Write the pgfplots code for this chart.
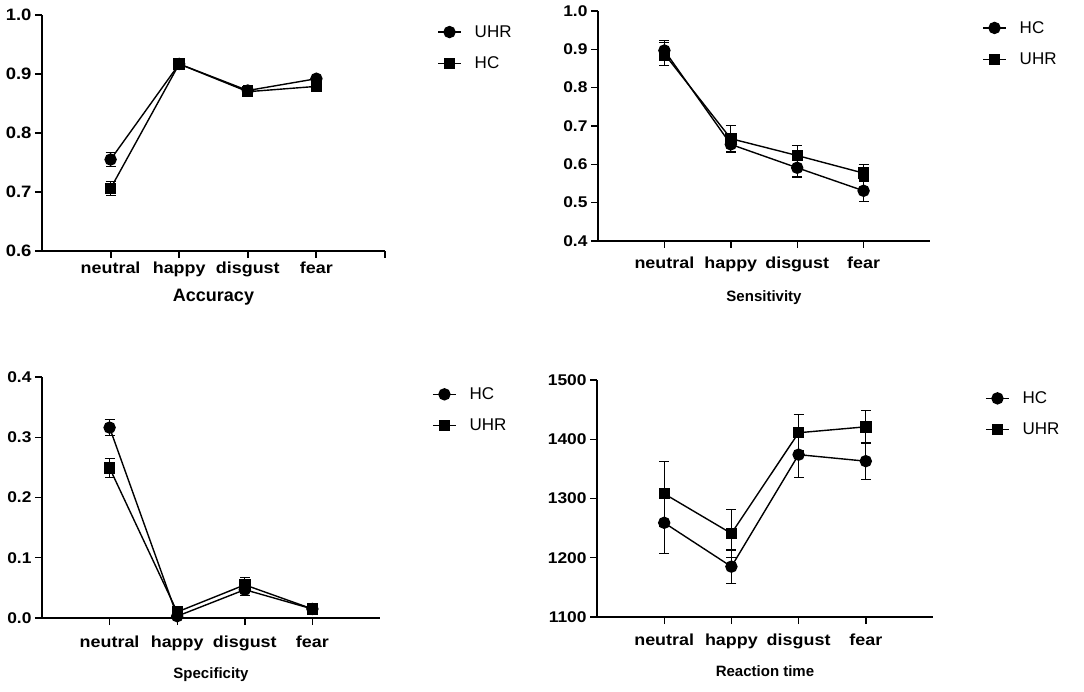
\documentclass[border=0pt]{standalone}
\usepackage{fontspec}
\setmainfont{Liberation Sans}
\newfontfamily\tickfont[FakeStretch=1.12]{Liberation Sans}
\usepackage{pgfplots}
\pgfplotsset{compat=1.18}

\pgfplotsset{
  panel/.style={
    scale only axis, clip=false,
    axis x line*=bottom, axis y line*=left,
    axis line style={line width=1.4pt, black},
    xmin=-1, xmax=4,
    xtick={0,1,2,3}, xticklabels={neutral,happy,disgust,fear},
    tick align=outside, major tick length=7pt,
    tick style={line width=1.4pt, black},
    x tick label style={font=\tickfont\bfseries\fontsize{16}{19}\selectfont, yshift=-6pt},
    y tick label style={font=\tickfont\bfseries\fontsize{15.5}{18}\selectfont},
    /pgf/number format/assume math mode=true,
    yticklabel style={/pgf/number format/fixed, /pgf/number format/fixed zerofill, /pgf/number format/precision=1},
    xlabel style={font=\bfseries\fontsize{15}{18}\selectfont, at={(axis description cs:0.5,0)}, anchor=center, yshift=-57pt},
    legend style={draw=none, fill=none, inner sep=0pt, anchor=north west,
      font=\fontsize{17}{20}\selectfont, row sep=14pt,
      /tikz/every odd column/.append style={column sep=11pt}},
    legend cell align=left,
    legend image code/.code={\draw[mark repeat=2,mark phase=2,##1] plot coordinates {(0pt,0pt)(11.5pt,0pt)(23pt,0pt)};},
    every axis plot/.append style={black, line width=1.4pt},
    error bars/y dir=both, error bars/y explicit,
    error bars/error bar style={line width=1.2pt, black},
    error bars/error mark options={rotate=90, mark size=5pt, line width=1.2pt, black},
  },
  circ/.style={black, line width=1.4pt, mark=*, mark size=5.5pt, mark options={solid, fill=black, draw=black}},
  sq/.style={black, line width=1.4pt, mark=square*, mark size=5pt, mark options={solid, fill=black, draw=black}},
}

\pgfplotstableread{
x y e
0 0.755 0.012
1 0.917 0.004
2 0.872 0.008
3 0.892 0.004
}\accUHR
\pgfplotstableread{
x y e
0 0.706 0.012
1 0.917 0.004
2 0.870 0.008
3 0.879 0.005
}\accHC
\pgfplotstableread{
x y e
0 0.897 0.027
1 0.652 0.020
2 0.591 0.024
3 0.531 0.028
}\senHC
\pgfplotstableread{
x y e
0 0.888 0.030
1 0.667 0.035
2 0.623 0.026
3 0.577 0.022
}\senUHR
\pgfplotstableread{
x y e
0 0.316 0.013
1 0.003 0.002
2 0.047 0.010
3 0.015 0.003
}\speHC
\pgfplotstableread{
x y e
0 0.249 0.016
1 0.010 0.003
2 0.055 0.012
3 0.015 0.003
}\speUHR
\pgfplotstableread{
x y e
0 1259 52
1 1185 28
2 1374 38
3 1363 31
}\rtHC
\pgfplotstableread{
x y e
0 1308 55
1 1241 40
2 1411 31
3 1421 28
}\rtUHR

\begin{document}
\begin{tikzpicture}[x=1pt,y=1pt]
\useasboundingbox (0,0) rectangle (1084,691);

% Accuracy
\begin{axis}[panel, at={(42pt,440pt)}, anchor=south west, width=343pt, height=236pt,
  ymin=0.6, ymax=1.0, ytick={0.6,0.7,0.8,0.9,1.0},
  axis line style={line width=2pt}, tick style={line width=2pt},
  x tick label style={yshift=6pt},
  y tick label style={font=\tickfont\bfseries\fontsize{16.5}{19}\selectfont},
  extra x ticks={4}, extra x tick labels={},
  xlabel={Accuracy}, xlabel style={font=\bfseries\fontsize{18}{21}\selectfont, yshift=11pt},
  legend style={at={(axis description cs:1.152,0.965)}}]
\addplot[circ] table[x=x,y=y,y error=e]{\accUHR};
\addlegendentry{UHR}
\addplot[sq] table[x=x,y=y,y error=e]{\accHC};
\addlegendentry{HC}
\end{axis}

% Sensitivity
\begin{axis}[panel, at={(598pt,450pt)}, anchor=south west, width=332pt, height=230pt,
  ymin=0.4, ymax=1.0, ytick={0.4,0.5,0.6,0.7,0.8,0.9,1.0},
  x tick label style={yshift=1pt},
  xlabel={Sensitivity},
  legend style={at={(axis description cs:1.157,0.965)}}]
\addplot[circ] table[x=x,y=y,y error=e]{\senHC};
\addlegendentry{HC}
\addplot[sq] table[x=x,y=y,y error=e]{\senUHR};
\addlegendentry{UHR}
\end{axis}

% Specificity
\begin{axis}[panel, at={(42pt,73pt)}, anchor=south west, width=338pt, height=241pt,
  ymin=0, ymax=0.4, ytick={0,0.1,0.2,0.3,0.4},
  x tick label style={yshift=-1.5pt},
  xlabel={Specificity},
  legend style={at={(axis description cs:1.154,0.965)}}]
\addplot[circ] table[x=x,y=y,y error=e]{\speHC};
\addlegendentry{HC}
\addplot[sq] table[x=x,y=y,y error=e]{\speUHR};
\addlegendentry{UHR}
\end{axis}

% Reaction time
\begin{axis}[panel, at={(597pt,74pt)}, anchor=south west, width=336pt, height=237pt,
  ymin=1100, ymax=1500, ytick={1100,1200,1300,1400,1500},
  yticklabel style={/pgf/number format/fixed, /pgf/number format/precision=0, /pgf/number format/1000 sep={}},
  xlabel={Reaction time}, xlabel style={yshift=3pt},
  legend style={at={(axis description cs:1.155,0.960)}}]
\addplot[circ] table[x=x,y=y,y error=e]{\rtHC};
\addlegendentry{HC}
\addplot[sq] table[x=x,y=y,y error=e]{\rtUHR};
\addlegendentry{UHR}
\end{axis}
\end{tikzpicture}
\end{document}
